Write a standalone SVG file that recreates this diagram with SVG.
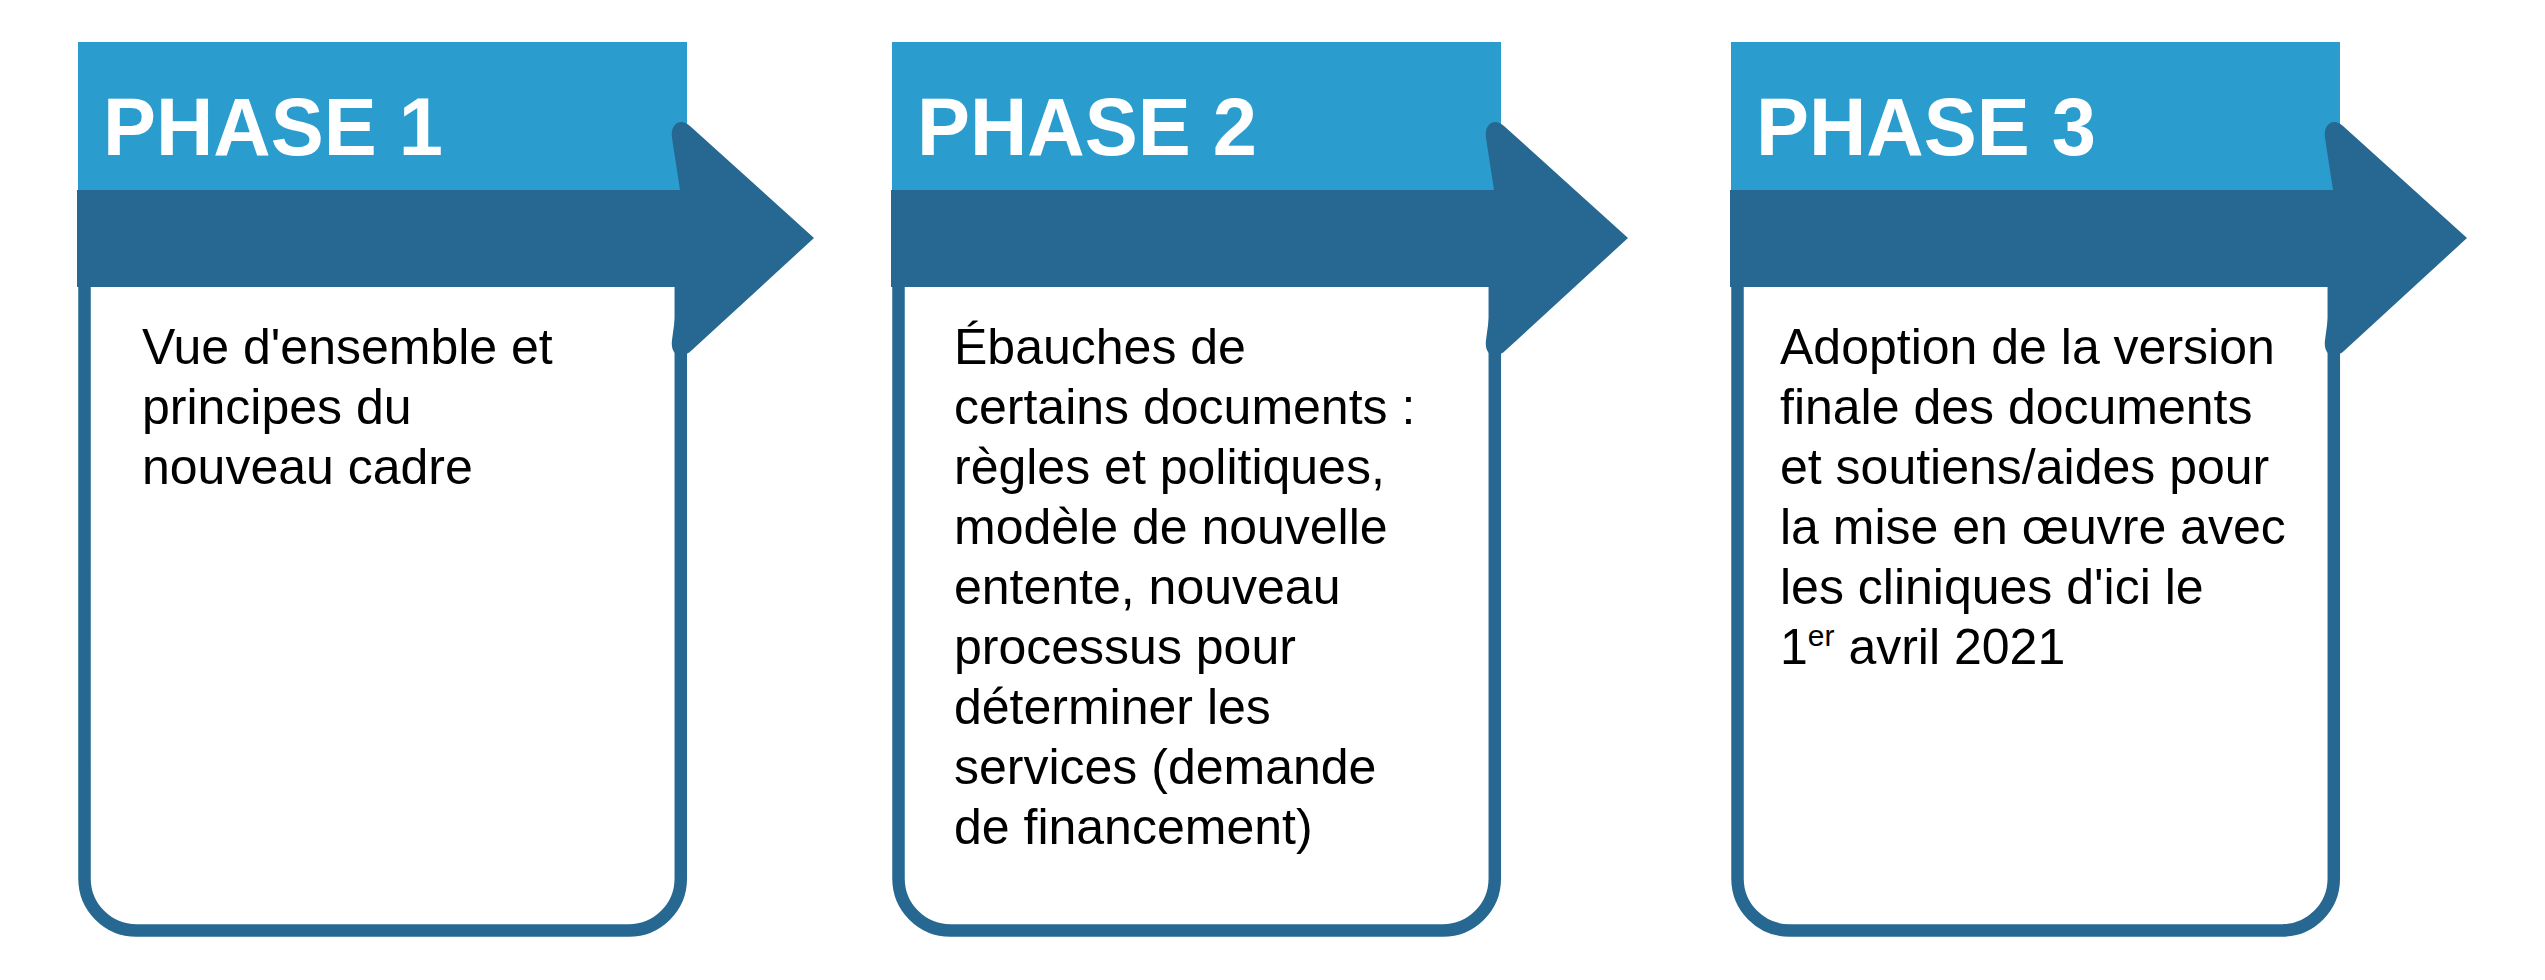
<svg xmlns="http://www.w3.org/2000/svg" width="2545" height="980" viewBox="0 0 2545 980">
  <style>
    .box { fill: #ffffff; stroke: #266891; stroke-width: 12.5; }
    .head { fill: #2A9DCE; }
    .band { fill: #266891; }
    .title { font-family: "Liberation Sans", Arial, sans-serif; font-weight: bold; font-size: 82px; fill: #ffffff; }
    .body { font-family: "Liberation Sans", Arial, sans-serif; font-size: 50px; fill: #000000; }
  </style>
  <defs>
    <path id="arrowhead" class="band" d="M 672,138 C 670,124 680,117 690,126 L 814,238 L 692,350 C 682,360 670,356 672,340 L 675,318 L 675,287 L 680,190 Z"/>
  </defs>
  <rect width="2545" height="980" fill="#ffffff"/>

  <g id="phase1">
    <rect class="box" x="84.5" y="200" width="596.3" height="730.5" rx="52" ry="52"/>
    <rect class="head" x="78" y="42" width="609" height="148"/>
    <rect class="band" x="77" y="190" width="604" height="97"/>
    <use href="#arrowhead"/>
    <text class="title" x="103" y="155" textLength="340" lengthAdjust="spacingAndGlyphs">PHASE 1</text>
    <text class="body" x="142" y="364">Vue d'ensemble et</text>
    <text class="body" x="142" y="424">principes du</text>
    <text class="body" x="142" y="484">nouveau cadre</text>
  </g>

  <g id="phase2" transform="translate(814,0)">
    <rect class="box" x="84.5" y="200" width="596.3" height="730.5" rx="52" ry="52"/>
    <rect class="head" x="78" y="42" width="609" height="148"/>
    <rect class="band" x="77" y="190" width="604" height="97"/>
    <use href="#arrowhead"/>
    <text class="title" x="103" y="155" textLength="340" lengthAdjust="spacingAndGlyphs">PHASE 2</text>
    <text class="body" x="140" y="364">Ébauches de</text>
    <text class="body" x="140" y="424">certains documents :</text>
    <text class="body" x="140" y="484">règles et politiques,</text>
    <text class="body" x="140" y="544">modèle de nouvelle</text>
    <text class="body" x="140" y="604">entente, nouveau</text>
    <text class="body" x="140" y="664">processus pour</text>
    <text class="body" x="140" y="724">déterminer les</text>
    <text class="body" x="140" y="784">services (demande</text>
    <text class="body" x="140" y="844">de financement)</text>
  </g>

  <g id="phase3" transform="translate(1653,0)">
    <rect class="box" x="84.5" y="200" width="596.3" height="730.5" rx="52" ry="52"/>
    <rect class="head" x="78" y="42" width="609" height="148"/>
    <rect class="band" x="77" y="190" width="604" height="97"/>
    <use href="#arrowhead"/>
    <text class="title" x="103" y="155" textLength="340" lengthAdjust="spacingAndGlyphs">PHASE 3</text>
    <text class="body" x="127" y="364">Adoption de la version</text>
    <text class="body" x="127" y="424">finale des documents</text>
    <text class="body" x="127" y="484">et soutiens/aides pour</text>
    <text class="body" x="127" y="544">la mise en œuvre avec</text>
    <text class="body" x="127" y="604">les cliniques d'ici le</text>
    <text class="body" x="127" y="664">1<tspan font-size="30" dy="-18">er</tspan><tspan dy="18"> avril 2021</tspan></text>
  </g>
</svg>
